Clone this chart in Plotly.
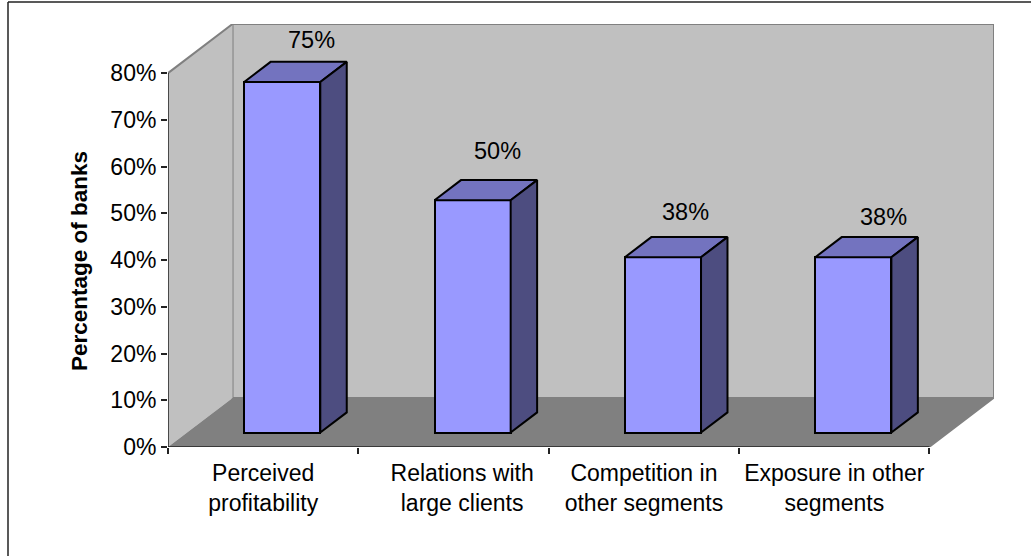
import plotly.graph_objects as go

categories = ["Perceived<br>profitability", "Relations with<br>large clients",
              "Competition in<br>other segments", "Exposure in other<br>segments"]
values = [75, 49.7, 37.5, 37.5]
value_labels = ["75%", "50%", "38%", "38%"]
y_ticks = [0, 10, 20, 30, 40, 50, 60, 70, 80]
y_tick_labels = ["0%", "10%", "20%", "30%", "40%", "50%", "60%", "70%", "80%"]

W, H = 1031, 556
ML, MR, MT, MB = 168, 37, 24, 109
PW, PH = W - ML - MR, H - MT - MB

# oblique projection of depth, in axis units
DX = 0.339
DY = 10.5
XMAX = 4 + DX
YMAX = 80 + DY
FRONT, BACK = 0.295, 0.705
BAR_W = 0.4

FONT = "Liberation Sans, Arial, sans-serif"
WALL, FLOOR, EDGE = "#c0c0c0", "#808080", "#808080"
FACE, TOP, SIDE = "#9999ff", "#7373bf", "#4d4d80"

label_dx = [48, 43.6, 41.4, 49]
label_dy = [56.4, 63.7, 59.7, 54.7]


def px(x):
    return (x - ML) / PW


def py(y):
    return (H - MB - y) / PH


fig = go.Figure()

# front faces
centers = [i + 0.5 + FRONT * DX for i in range(len(values))]
fig.add_trace(go.Bar(x=centers, y=values, base=[FRONT * DY] * len(values), width=BAR_W,
                     marker=dict(color=FACE, line=dict(color="black", width=2)),
                     hoverinfo="skip", showlegend=False, cliponaxis=False))

# top and side faces
d = (BACK - FRONT)
for c, v in zip(centers, values):
    xl, xr = c - BAR_W / 2, c + BAR_W / 2
    yb, yt = FRONT * DY, FRONT * DY + v
    ddx, ddy = d * DX, d * DY
    fig.add_trace(go.Scatter(x=[xl, xr, xr + ddx, xl + ddx, xl], y=[yt, yt, yt + ddy, yt + ddy, yt],
                             mode="lines", fill="toself", fillcolor=TOP,
                             line=dict(color="black", width=2), hoverinfo="skip", showlegend=False))
    fig.add_trace(go.Scatter(x=[xr, xr + ddx, xr + ddx, xr, xr], y=[yb, yb + ddy, yt + ddy, yt, yb],
                             mode="lines", fill="toself", fillcolor=SIDE,
                             line=dict(color="black", width=2), hoverinfo="skip", showlegend=False))

# outer edges of the walls and the axis lines
fig.add_trace(go.Scatter(x=[0, DX, XMAX, XMAX], y=[80, YMAX, YMAX, DY], mode="lines",
                         line=dict(color=EDGE, width=2), cliponaxis=False,
                         hoverinfo="skip", showlegend=False))
fig.add_trace(go.Scatter(x=[XMAX, 4], y=[DY, 0], mode="lines",
                         line=dict(color=EDGE, width=1.5), cliponaxis=False,
                         hoverinfo="skip", showlegend=False))
fig.add_trace(go.Scatter(x=[0, 0, 4], y=[80, 0, 0], mode="lines",
                         line=dict(color="#222222", width=1.5), cliponaxis=False,
                         hoverinfo="skip", showlegend=False))

shapes = [
    # back wall
    dict(type="path", path=f"M {DX} {DY} L {DX} {YMAX} L {XMAX} {YMAX} L {XMAX} {DY} Z",
         fillcolor=WALL, line=dict(color=EDGE, width=2), layer="below"),
    # left wall
    dict(type="path", path=f"M 0 0 L 0 80 L {DX} {YMAX} L {DX} {DY} Z",
         fillcolor=WALL, line=dict(width=0), layer="below"),
    # floor
    dict(type="path", path=f"M 0 0 L {DX} {DY} L {XMAX} {DY} L 4 0 Z",
         fillcolor=FLOOR, line=dict(width=0), layer="below"),
    # outer frame
    dict(type="line", xref="paper", yref="paper", x0=px(8), x1=px(8), y0=py(556), y1=py(2),
         line=dict(color="#222222", width=1.5)),
    dict(type="line", xref="paper", yref="paper", x0=px(8), x1=px(1031), y0=py(2), y1=py(2),
         line=dict(color="#222222", width=1.5)),
]

annotations = [
    dict(x=i + 0.5, y=v, text=t, xshift=sx, yshift=sy, showarrow=False,
         font=dict(family=FONT, size=23.5, color="black"), xanchor="center", yanchor="middle")
    for i, (v, t, sx, sy) in enumerate(zip(values, value_labels, label_dx, label_dy))
]
annotations.append(dict(xref="paper", yref="paper", x=px(79), y=py(261), text="<b>Percentage of banks</b>",
                        textangle=-90, showarrow=False, xanchor="center", yanchor="middle",
                        font=dict(family=FONT, size=22.5, color="black")))

fig.update_layout(
    width=W, height=H, margin=dict(l=ML, r=MR, t=MT, b=MB, pad=0),
    paper_bgcolor="white", plot_bgcolor="white", showlegend=False, bargap=0,
    font=dict(family=FONT, size=23, color="black"),
    shapes=shapes, annotations=annotations,
    xaxis=dict(range=[0, XMAX], tickmode="array", tickvals=[0.5, 1.545, 2.5, 3.5], ticktext=categories,
               ticks="", showgrid=False, zeroline=False, showline=False, tickangle=0,
               ticklabelstandoff=10,
               tickfont=dict(family=FONT, size=23, color="black"),
               minor=dict(tickmode="array", tickvals=[0, 1, 2, 3, 4], ticks="outside", ticklen=6,
                          tickcolor="#222222", tickwidth=1.5, showgrid=False)),
    yaxis=dict(range=[0, YMAX], tickmode="array", tickvals=y_ticks, ticktext=y_tick_labels,
               ticks="outside", ticklen=6, tickwidth=1.5, tickcolor="#222222",
               showgrid=False, zeroline=False, showline=False,
               tickfont=dict(family=FONT, size=23, color="black")),
)

fig.write_html("out.html", config={"displayModeBar": False}, post_script="document.body.style.margin='0';")
